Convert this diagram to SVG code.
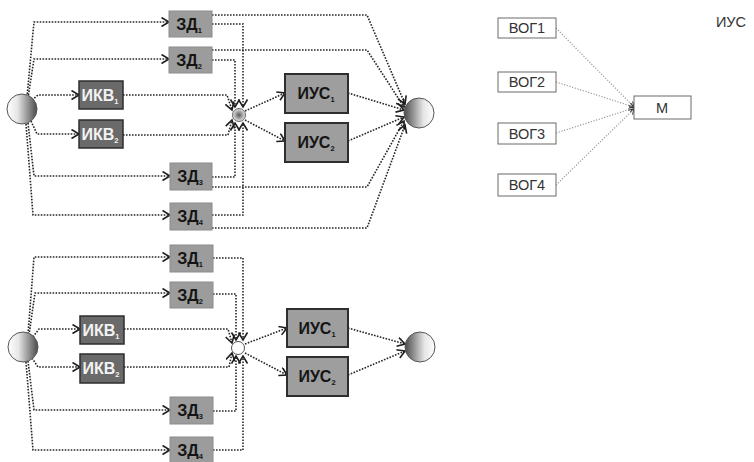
<svg xmlns="http://www.w3.org/2000/svg" width="754" height="462" viewBox="0 0 754 462">
  <defs>
    <style>
      .dot { fill: none; stroke: #262626; stroke-width: 1.6; stroke-dasharray: 1.6 1.4; }
      .dotl { fill: none; stroke: #9a9a9a; stroke-width: 1.2; stroke-dasharray: 1.2 1.6; }
      .arr { marker-end: url(#ah); }
      .ah { fill: none; stroke: #1e1e1e; stroke-width: 1.6; stroke-dasharray: none; }
      .zd { fill: #9c9c9c; stroke: #8c8c8c; stroke-width: 1; }
      .ikv { fill: #6a6a6a; stroke: #2e2e2e; stroke-width: 1.5; }
      .ius { fill: #9e9e9e; stroke: #2e2e2e; stroke-width: 2; }
      .vog { fill: #ffffff; stroke: #6a6a6a; stroke-width: 1; }
      .lb { font-family: "Liberation Sans", Arial, sans-serif; font-weight: bold; font-size: 16px; text-anchor: middle; }
      .dk { fill: #151515; }
      .wt { fill: #f2f2f2; }
      .sub { font-size: 7.5px; }
      .tx { font-family: "Liberation Sans", Arial, sans-serif; font-size: 14.5px; fill: #333; text-anchor: middle; }
    </style>
    <marker id="ah" markerUnits="userSpaceOnUse" markerWidth="12" markerHeight="12" refX="8" refY="5" orient="auto">
      <path class="ah" d="M0.5,0.5 L8,5 L0.5,9.5"/>
    </marker>
    <marker id="ahs" markerUnits="userSpaceOnUse" markerWidth="8" markerHeight="8" refX="5" refY="3" orient="auto">
      <path d="M0,0 L5,3 L0,6" fill="none" stroke="#333" stroke-width="1"/>
    </marker>
    <linearGradient id="gL" x1="0" y1="0" x2="1" y2="0">
      <stop offset="0" stop-color="#ffffff"/>
      <stop offset="0.35" stop-color="#e6e6e6"/>
      <stop offset="1" stop-color="#4a4a4a"/>
    </linearGradient>
    <linearGradient id="gR" x1="0" y1="0" x2="1" y2="0">
      <stop offset="0" stop-color="#4a4a4a"/>
      <stop offset="0.65" stop-color="#e6e6e6"/>
      <stop offset="1" stop-color="#ffffff"/>
    </linearGradient>
    <radialGradient id="gJ">
      <stop offset="0" stop-color="#5a5a5a"/>
      <stop offset="1" stop-color="#e8e8e8"/>
    </radialGradient>
  </defs>

  <!-- ========== upper scheme: connectors ========== -->
  <g id="edges-top">
    <!-- source to ЗД / ИКВ -->
    <path class="dot arr" d="M27,97 L34,22 L169,22"/>
    <path class="dot arr" d="M28,98 L34,59 L169,59"/>
    <path class="dot arr" d="M32,100 L38,95 L79,95"/>
    <path class="dot arr" d="M31,121 L37,134 L79,134"/>
    <path class="dot arr" d="M28,123 L34,176 L170,176"/>
    <path class="dot arr" d="M26,124 L33,215 L170,215"/>
    <!-- ЗД / ИКВ to junction -->
    <path class="dot arr" d="M212,24 L243,24 L243,107"/>
    <path class="dot arr" d="M212,60 L235,60 L235,107"/>
    <path class="dot arr" d="M123,95 L227,95 L232,110"/>
    <path class="dot arr" d="M123,135 L228,135 L232,120"/>
    <path class="dot arr" d="M212,177 L235,177 L235,123"/>
    <path class="dot arr" d="M212,215 L243,215 L243,123"/>
    <!-- ЗД bypass to sink -->
    <path class="dot arr" d="M212,15 L367,15 L405,104"/>
    <path class="dot arr" d="M212,50 L367,50 L404,107"/>
    <path class="dot arr" d="M212,187 L367,187 L404,121"/>
    <path class="dot arr" d="M212,228 L367,228 L405,125"/>
    <!-- junction to ИУС -->
    <path class="dot arr" d="M245,111 L285,93"/>
    <path class="dot arr" d="M245,120 L285,141"/>
    <!-- ИУС to sink -->
    <path class="dot arr" d="M348,93 L404,110"/>
    <path class="dot arr" d="M348,141 L404,117"/>
  </g>

  <!-- ========== upper scheme: nodes ========== -->
  <g id="src-top"><circle cx="22" cy="109" r="15" fill="url(#gL)" stroke="#555" stroke-width="1"/></g>
  <g id="zd1-top"><rect class="zd" x="169" y="11" width="43" height="26"/><text class="lb dk" x="189" y="30">ЗД<tspan class="sub" dy="3">1</tspan></text></g>
  <g id="zd2-top"><rect class="zd" x="169" y="47" width="43" height="26"/><text class="lb dk" x="189" y="66">ЗД<tspan class="sub" dy="3">2</tspan></text></g>
  <g id="ikv1-top"><rect class="ikv" x="79" y="81" width="44" height="28"/><text class="lb wt" x="100" y="101">ИКВ<tspan class="sub" dy="3">1</tspan></text></g>
  <g id="ikv2-top"><rect class="ikv" x="79" y="120" width="44" height="28"/><text class="lb wt" x="100" y="140">ИКВ<tspan class="sub" dy="3">2</tspan></text></g>
  <g id="zd3-top"><rect class="zd" x="170" y="163" width="42" height="27"/><text class="lb dk" x="190" y="182">ЗД<tspan class="sub" dy="3">3</tspan></text></g>
  <g id="zd4-top"><rect class="zd" x="170" y="203" width="42" height="27"/><text class="lb dk" x="190" y="222">ЗД<tspan class="sub" dy="3">4</tspan></text></g>
  <g id="join-top"><circle cx="239" cy="115" r="6.5" fill="url(#gJ)" stroke="#666" stroke-width="1"/></g>
  <g id="ius1-top"><rect class="ius" x="285" y="74" width="63" height="39"/><text class="lb dk" x="316" y="99">ИУС<tspan class="sub" dy="3">1</tspan></text></g>
  <g id="ius2-top"><rect class="ius" x="285" y="123" width="63" height="39"/><text class="lb dk" x="316" y="148">ИУС<tspan class="sub" dy="3">2</tspan></text></g>
  <g id="sink-top"><circle cx="419" cy="113" r="15" fill="url(#gR)" stroke="#555" stroke-width="1"/></g>

  <!-- ========== lower scheme: connectors ========== -->
  <g id="edges-bottom">
    <path class="dot arr" d="M28,334 L34,257 L170,257"/>
    <path class="dot arr" d="M29,335 L35,293 L170,293"/>
    <path class="dot arr" d="M33,337 L39,329 L80,329"/>
    <path class="dot arr" d="M32,358 L38,367 L80,367"/>
    <path class="dot arr" d="M28,361 L34,410 L170,410"/>
    <path class="dot arr" d="M26,362 L33,450 L170,450"/>
    <path class="dot arr" d="M213,258 L243,258 L243,340"/>
    <path class="dot arr" d="M213,294 L236,294 L236,340"/>
    <path class="dot arr" d="M124,329 L228,329 L232,343"/>
    <path class="dot arr" d="M124,367 L229,367 L232,353"/>
    <path class="dot arr" d="M213,411 L236,411 L236,356"/>
    <path class="dot arr" d="M213,450 L243,450 L243,356"/>
    <path class="dot arr" d="M245,344 L287,328"/>
    <path class="dot arr" d="M245,353 L287,375"/>
    <path class="dot arr" d="M348,328 L405,344"/>
    <path class="dot arr" d="M348,375 L405,351"/>
  </g>

  <!-- ========== lower scheme: nodes ========== -->
  <g id="src-bottom"><circle cx="23" cy="347" r="15" fill="url(#gL)" stroke="#555" stroke-width="1"/></g>
  <g id="zd1-bottom"><rect class="zd" x="170" y="245" width="43" height="27"/><text class="lb dk" x="190" y="264">ЗД<tspan class="sub" dy="3">1</tspan></text></g>
  <g id="zd2-bottom"><rect class="zd" x="170" y="282" width="43" height="26"/><text class="lb dk" x="190" y="301">ЗД<tspan class="sub" dy="3">2</tspan></text></g>
  <g id="ikv1-bottom"><rect class="ikv" x="80" y="316" width="44" height="28"/><text class="lb wt" x="101" y="336">ИКВ<tspan class="sub" dy="3">1</tspan></text></g>
  <g id="ikv2-bottom"><rect class="ikv" x="80" y="354" width="44" height="29"/><text class="lb wt" x="101" y="374">ИКВ<tspan class="sub" dy="3">2</tspan></text></g>
  <g id="zd3-bottom"><rect class="zd" x="170" y="397" width="43" height="27"/><text class="lb dk" x="190" y="416">ЗД<tspan class="sub" dy="3">3</tspan></text></g>
  <g id="zd4-bottom"><rect class="zd" x="170" y="437" width="43" height="26"/><text class="lb dk" x="190" y="456">ЗД<tspan class="sub" dy="3">4</tspan></text></g>
  <g id="join-bottom"><circle cx="238" cy="348" r="6.5" fill="#ffffff" stroke="#555" stroke-width="1"/></g>
  <g id="ius1-bottom"><rect class="ius" x="287" y="309" width="61" height="38"/><text class="lb dk" x="317" y="334">ИУС<tspan class="sub" dy="3">1</tspan></text></g>
  <g id="ius2-bottom"><rect class="ius" x="287" y="357" width="61" height="39"/><text class="lb dk" x="317" y="382">ИУС<tspan class="sub" dy="3">2</tspan></text></g>
  <g id="sink-bottom"><circle cx="420" cy="347" r="15" fill="url(#gR)" stroke="#555" stroke-width="1"/></g>

  <!-- ========== ВОГ → М ========== -->
  <g id="edges-vog">
    <path class="dotl" d="M556,28 L634,107" marker-end="url(#ahs)"/>
    <path class="dotl" d="M556,82 L634,107" marker-end="url(#ahs)"/>
    <path class="dotl" d="M556,133 L634,108" marker-end="url(#ahs)"/>
    <path class="dotl" d="M556,185 L634,109" marker-end="url(#ahs)"/>
  </g>
  <g id="vog1"><rect class="vog" x="498" y="18" width="58" height="20"/><text class="tx" x="527" y="33">ВОГ1</text></g>
  <g id="vog2"><rect class="vog" x="498" y="72" width="58" height="20"/><text class="tx" x="527" y="87">ВОГ2</text></g>
  <g id="vog3"><rect class="vog" x="498" y="123" width="58" height="21"/><text class="tx" x="527" y="139">ВОГ3</text></g>
  <g id="vog4"><rect class="vog" x="498" y="174" width="58" height="22"/><text class="tx" x="527" y="190">ВОГ4</text></g>
  <g id="m"><rect class="vog" x="634" y="96" width="57" height="23"/><text class="tx" x="662" y="113">М</text></g>
  <text class="tx" x="731" y="27">ИУС</text>
</svg>
